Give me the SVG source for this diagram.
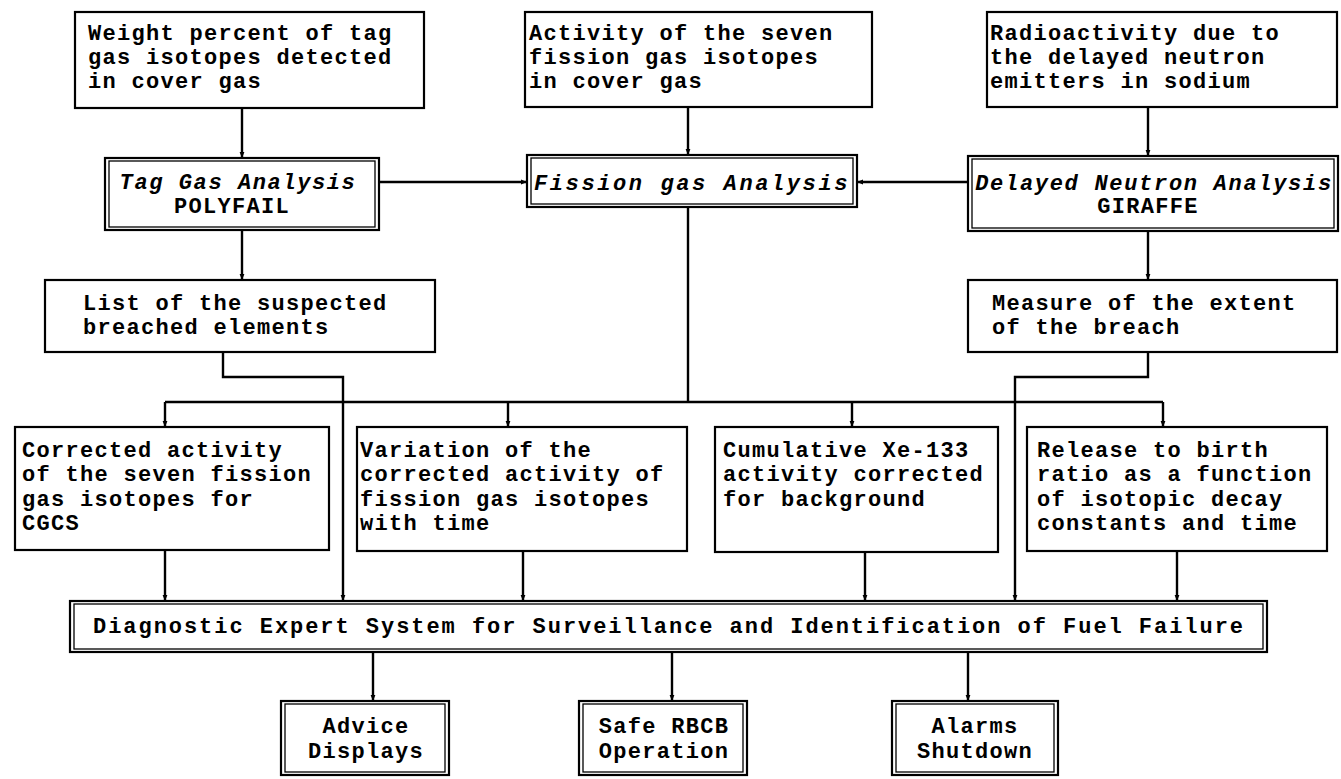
<svg xmlns="http://www.w3.org/2000/svg" width="1341" height="779" viewBox="0 0 1341 779">
<defs>
<marker id="ah" viewBox="0 0 10 10" refX="10" refY="5" markerWidth="6" markerHeight="6" orient="auto" markerUnits="userSpaceOnUse">
<path d="M0,1 L10,5 L0,9 z" fill="#000"/>
</marker>
<style>
.box{fill:#fff;stroke:#000;stroke-width:2.2}
.inner{fill:none;stroke:#000;stroke-width:1.3}
.t{font-family:"Liberation Mono","DejaVu Sans Mono",monospace;font-weight:bold;font-size:22px;fill:#000;letter-spacing:1.3px}
.c{text-anchor:middle}
.i{font-style:italic}
.ln{fill:none;stroke:#000;stroke-width:2.4}
.ar{marker-end:url(#ah)}
</style>
</defs>
<rect width="1341" height="779" fill="#fff"/>

<g id="connectors">
<line class="ln ar" x1="242" y1="108" x2="242" y2="158"/>
<line class="ln ar" x1="688" y1="107" x2="688" y2="155"/>
<line class="ln ar" x1="1148" y1="107" x2="1148" y2="156"/>
<line class="ln ar" x1="379" y1="182" x2="527" y2="182"/>
<line class="ln ar" x1="968" y1="182" x2="857" y2="182"/>
<line class="ln ar" x1="242" y1="230" x2="242" y2="280"/>
<line class="ln ar" x1="1148" y1="231" x2="1148" y2="280"/>
<line class="ln" x1="688" y1="207" x2="688" y2="402"/>
<line class="ln" x1="165" y1="402" x2="1163" y2="402"/>
<line class="ln ar" x1="165" y1="402" x2="165" y2="427"/>
<line class="ln ar" x1="508" y1="402" x2="508" y2="427"/>
<line class="ln ar" x1="852" y1="402" x2="852" y2="427"/>
<line class="ln ar" x1="1163" y1="402" x2="1163" y2="427"/>
<path class="ln ar" d="M223,352 V377 H343 V601"/>
<path class="ln ar" d="M1148,352 V377 H1015 V601"/>
<line class="ln ar" x1="165" y1="550" x2="165" y2="601"/>
<line class="ln ar" x1="523" y1="551" x2="523" y2="601"/>
<line class="ln ar" x1="865" y1="552" x2="865" y2="601"/>
<line class="ln ar" x1="1177" y1="551" x2="1177" y2="601"/>
<line class="ln ar" x1="373" y1="652" x2="373" y2="701"/>
<line class="ln ar" x1="672" y1="652" x2="672" y2="701"/>
<line class="ln ar" x1="968" y1="652" x2="968" y2="701"/>
</g>

<g id="n-weight">
<rect class="box" x="75" y="12" width="349" height="96"/>
<text class="t" x="88" y="40">Weight percent of tag</text>
<text class="t" x="88" y="64">gas isotopes detected</text>
<text class="t" x="88" y="88">in cover gas</text>
</g>
<g id="n-activity">
<rect class="box" x="525" y="12" width="347" height="95"/>
<text class="t" x="529" y="40">Activity of the seven</text>
<text class="t" x="529" y="64">fission gas isotopes</text>
<text class="t" x="529" y="88">in cover gas</text>
</g>
<g id="n-radio">
<rect class="box" x="987" y="12" width="350" height="95"/>
<text class="t" x="990" y="40">Radioactivity due to</text>
<text class="t" x="990" y="64">the delayed neutron</text>
<text class="t" x="990" y="88">emitters in sodium</text>
</g>

<g id="n-tag">
<rect class="box" x="105" y="158" width="274" height="72"/>
<rect class="inner" x="109" y="161" width="266" height="66"/>
<text class="t c i" x="238" y="189" style="letter-spacing:1.6px">Tag Gas Analysis</text>
<text class="t c" x="232" y="213">POLYFAIL</text>
</g>
<g id="n-fission">
<rect class="box" x="527" y="155" width="330" height="52"/>
<rect class="inner" x="531" y="158" width="322" height="46"/>
<text class="t c i" x="692" y="190" style="letter-spacing:2.6px">Fission gas Analysis</text>
</g>
<g id="n-delayed">
<rect class="box" x="968" y="156" width="370" height="75"/>
<rect class="inner" x="972" y="159" width="362" height="69"/>
<text class="t c i" x="1154" y="190" style="letter-spacing:1.7px">Delayed Neutron Analysis</text>
<text class="t c" x="1148" y="213">GIRAFFE</text>
</g>

<g id="n-list">
<rect class="box" x="45" y="280" width="390" height="72"/>
<text class="t" x="83" y="310">List of the suspected</text>
<text class="t" x="83" y="334">breached elements</text>
</g>
<g id="n-measure">
<rect class="box" x="968" y="280" width="369" height="72"/>
<text class="t" x="992" y="310">Measure of the extent</text>
<text class="t" x="992" y="334">of the breach</text>
</g>

<g id="n-corrected">
<rect class="box" x="15" y="427" width="314" height="123"/>
<text class="t" x="22" y="457">Corrected activity</text>
<text class="t" x="22" y="481">of the seven fission</text>
<text class="t" x="22" y="506">gas isotopes for</text>
<text class="t" x="22" y="530">CGCS</text>
</g>
<g id="n-variation">
<rect class="box" x="357" y="427" width="330" height="124"/>
<text class="t" x="360" y="457">Variation of the</text>
<text class="t" x="360" y="481">corrected activity of</text>
<text class="t" x="360" y="506">fission gas isotopes</text>
<text class="t" x="360" y="530">with time</text>
</g>
<g id="n-cumulative">
<rect class="box" x="715" y="427" width="283" height="125"/>
<text class="t" x="723" y="457">Cumulative Xe-133</text>
<text class="t" x="723" y="481">activity corrected</text>
<text class="t" x="723" y="506">for background</text>
</g>
<g id="n-release">
<rect class="box" x="1027" y="427" width="300" height="124"/>
<text class="t" x="1037" y="457">Release to birth</text>
<text class="t" x="1037" y="481">ratio as a function</text>
<text class="t" x="1037" y="506">of isotopic decay</text>
<text class="t" x="1037" y="530">constants and time</text>
</g>

<g id="n-diagnostic">
<rect class="box" x="70" y="601" width="1197" height="51"/>
<rect class="inner" x="74" y="604" width="1189" height="45"/>
<text class="t c" x="668" y="633" textLength="1150" lengthAdjust="spacing" style="letter-spacing:0">Diagnostic Expert System for Surveillance and Identification of Fuel Failure</text>
</g>

<g id="n-advice">
<rect class="box" x="281" y="701" width="168" height="74"/>
<rect class="inner" x="285" y="704" width="160" height="68"/>
<text class="t c" x="366" y="733">Advice</text>
<text class="t c" x="366" y="758">Displays</text>
</g>
<g id="n-safe">
<rect class="box" x="579" y="701" width="168" height="74"/>
<rect class="inner" x="583" y="704" width="160" height="68"/>
<text class="t c" x="664" y="733">Safe RBCB</text>
<text class="t c" x="664" y="758">Operation</text>
</g>
<g id="n-alarms">
<rect class="box" x="892" y="701" width="166" height="74"/>
<rect class="inner" x="896" y="704" width="158" height="68"/>
<text class="t c" x="975" y="733">Alarms</text>
<text class="t c" x="975" y="758">Shutdown</text>
</g>
</svg>
